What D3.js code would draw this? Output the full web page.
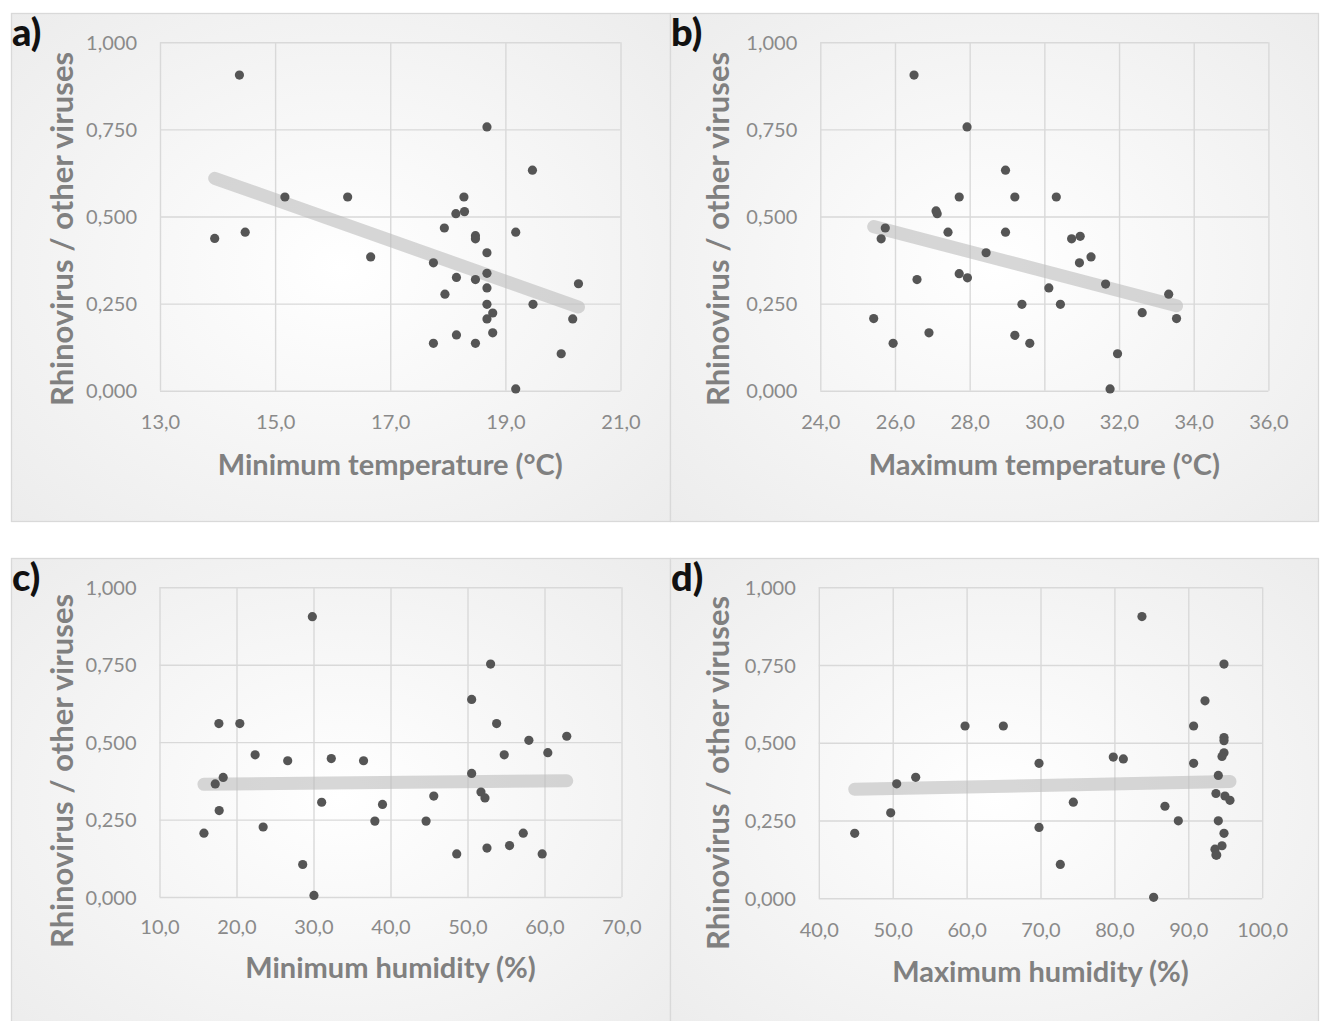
<!DOCTYPE html>
<html>
<head>
<meta charset="utf-8">
<script src="https://cdn.jsdelivr.net/npm/d3@7"></script>
<style>
  body { margin: 0; background: #ffffff; }
  svg { display: block; }
</style>
</head>
<body>
<svg class="fig" width="1323" height="1021"></svg>
<script>
// ratio rhinovirus / other viruses vs. weather
var tMinX = [14.38, 18.68, 19.47, 15.17, 16.26, 18.28, 18.14, 18.29, 13.95, 14.48, 17.94, 18.48,
    18.48, 19.18, 16.66, 18.68, 17.75, 18.68, 18.15, 18.48, 18.68, 20.27, 17.95, 18.68, 19.48,
    18.78, 18.68, 20.17, 18.78, 18.15, 17.75, 18.48, 19.97, 19.18]
var tMinY = [0.906, 0.757, 0.633, 0.556, 0.556, 0.556, 0.508, 0.514, 0.437, 0.455, 0.467, 0.445,
    0.436, 0.455, 0.384, 0.396, 0.367, 0.337, 0.325, 0.319, 0.295, 0.307, 0.277, 0.248, 0.248,
    0.223, 0.206, 0.206, 0.166, 0.160, 0.136, 0.136, 0.106, 0.005]

var tMaxX = [26.51, 27.93, 28.96, 27.72, 29.21, 30.32, 27.10, 27.13, 25.74, 25.63, 27.42, 28.96,
    30.73, 30.96, 28.44, 31.25, 30.94, 27.72, 27.94, 26.59, 31.64, 30.12, 33.33, 29.40, 30.43,
    32.62, 25.43, 33.54, 26.91, 29.21, 25.95, 29.61, 31.96, 31.76]
var tMaxY = [0.906, 0.757, 0.633, 0.556, 0.556, 0.556, 0.516, 0.508, 0.467, 0.436, 0.455, 0.455,
    0.436, 0.443, 0.396, 0.384, 0.367, 0.336, 0.324, 0.319, 0.306, 0.295, 0.277, 0.248, 0.248,
    0.224, 0.207, 0.207, 0.166, 0.159, 0.136, 0.136, 0.106, 0.005]

var hMinX = [29.85, 53.0, 50.54, 17.71, 20.43, 53.78, 57.97, 62.89, 60.43, 54.77, 22.42, 26.65,
    32.31, 36.50, 50.54, 18.27, 17.24, 51.75, 52.27, 45.62, 31.06, 38.96, 17.75, 37.97, 44.62,
    23.46, 15.77, 57.24, 55.46, 52.53, 48.60, 59.70, 28.60, 30.06]
var hMinY = [0.905, 0.752, 0.638, 0.560, 0.560, 0.560, 0.506, 0.519, 0.466, 0.459, 0.459, 0.440,
    0.447, 0.440, 0.399, 0.386, 0.365, 0.339, 0.320, 0.326, 0.306, 0.299, 0.279, 0.245, 0.245,
    0.226, 0.206, 0.206, 0.166, 0.158, 0.139, 0.139, 0.105, 0.005]

var hMaxX = [83.73, 94.83, 92.26, 59.79, 64.97, 90.72, 94.83, 94.83, 94.83, 94.56, 90.72, 69.80,
    79.85, 81.21, 94.06, 53.11, 50.54, 93.74, 94.96, 95.64, 74.44, 86.84, 49.73, 88.65, 94.06,
    69.80, 44.86, 94.83, 94.56, 93.61, 93.74, 93.85, 72.68, 85.31]
var hMaxY = [0.906, 0.753, 0.635, 0.554, 0.554, 0.554, 0.517, 0.507, 0.468, 0.456, 0.434, 0.434,
    0.454, 0.448, 0.395, 0.389, 0.368, 0.337, 0.329, 0.315, 0.309, 0.296, 0.275, 0.249, 0.249,
    0.228, 0.209, 0.209, 0.169, 0.158, 0.139, 0.139, 0.109, 0.003]

var yTicks = [0, 0.25, 0.5, 0.75, 1]
var tMinTicks = [13, 15, 17, 19, 21]
var tMaxTicks = [24, 26, 28, 30, 32, 34, 36]
var hMinTicks = [10, 20, 30, 40, 50, 60, 70]
var hMaxTicks = [40, 50, 60, 70, 80, 90, 100]

var yTitle = "Rhinovirus / other viruses"

var panels = [
    {letter: "a)", xs: tMinX, ys: tMinY, ticks: tMinTicks, title: "Minimum temperature (°C)",
     box: [11, 13, 659, 508], plot: [160, 42.3, 620.5, 390.7], yTitlePos: [62, 229], labelGap: 31, titleY: 465},
    {letter: "b)", xs: tMaxX, ys: tMaxY, ticks: tMaxTicks, title: "Maximum temperature (°C)",
     box: [670, 13, 648, 508], plot: [820.3, 42.3, 1268.4, 390.7], yTitlePos: [718, 229], labelGap: 31, titleY: 465},
    {letter: "c)", xs: hMinX, ys: hMinY, ticks: hMinTicks, title: "Minimum humidity (%)",
     box: [11, 558, 659, 475], plot: [159.5, 587.3, 621.5, 897], yTitlePos: [62, 771], labelGap: 30, titleY: 968},
    {letter: "d)", xs: hMaxX, ys: hMaxY, ticks: hMaxTicks, title: "Maximum humidity (%)",
     box: [670, 558, 648, 475], plot: [818.8, 587.3, 1262.2, 898.3], yTitlePos: [718, 773], labelGap: 32, titleY: 972}
]

var locale = d3.formatLocale({decimal: ",", thousands: ".", grouping: [3], currency: ["", ""]})
var xFmt = locale.format(".1f")
var yFmt = locale.format(".3f")

var fontFam = "Lato, 'Open Sans', sans-serif"

function fitLine(xs, ys) {
    var mx = d3.mean(xs), my = d3.mean(ys)
    var sxy = 0, sxx = 0
    xs.forEach((x, i) => {
        sxy += (x - mx) * (ys[i] - my)
        sxx += (x - mx) * (x - mx)
    })
    var slope = sxy / sxx
    return {slope: slope, intercept: my - slope * mx}
}

var svg = d3.select(".fig")
var defs = svg.append("defs")

function drawPanel(p, i) {
    var g = svg.append("g").attr("class", "panel-" + i)

    // chart area with soft radial shading like the office chart style
    var grad = defs.append("radialGradient")
        .attr("id", "bg" + i)
        .attr("cx", "50%").attr("cy", "50%").attr("r", "75%")
    grad.append("stop").attr("offset", "0%").attr("stop-color", "#ffffff")
    grad.append("stop").attr("offset", "100%").attr("stop-color", "#ebebeb")

    g.append("rect")
        .attr("x", p.box[0] + 0.5).attr("y", p.box[1] + 0.5)
        .attr("width", p.box[2]).attr("height", p.box[3])
        .attr("fill", "url(#bg" + i + ")")
        .attr("stroke", "#d9d9d9")
        .attr("stroke-width", 1.3)

    var xScale = d3.scaleLinear()
        .domain(d3.extent(p.ticks))
        .range([p.plot[0], p.plot[2]])
    var yScale = d3.scaleLinear()
        .domain([0, 1])
        .range([p.plot[3], p.plot[1]])
    var h = p.plot[3] - p.plot[1]
    var w = p.plot[2] - p.plot[0]

    // x axis: gridlines + labels
    var xAxis = g.append("g")
        .attr("class", "x axis")
        .attr("transform", "translate(0," + p.plot[3] + ")")
        .call(d3.axisBottom(xScale).tickValues(p.ticks).tickSize(-h).tickFormat(xFmt))
    xAxis.select(".domain").remove()
    xAxis.selectAll("line").attr("stroke", "#d9d9d9").attr("stroke-width", 1.4)
    xAxis.selectAll("text")
        .attr("y", p.labelGap).attr("dy", "0.35em")
        .attr("fill", "#8a8a8a")
        .attr("font-family", fontFam)
        .attr("font-size", "20px")

    // y axis
    var yAxis = g.append("g")
        .attr("class", "y axis")
        .attr("transform", "translate(" + p.plot[0] + ",0)")
        .call(d3.axisLeft(yScale).tickValues(yTicks).tickSize(-w).tickPadding(23).tickFormat(yFmt))
    yAxis.select(".domain").remove()
    yAxis.selectAll("line").attr("stroke", "#d9d9d9").attr("stroke-width", 1.4)
    yAxis.selectAll("text")
        .attr("dy", "0.35em")
        .attr("fill", "#8a8a8a")
        .attr("font-family", fontFam)
        .attr("font-size", "20px")

    // linear trendline over the data range
    var fit = fitLine(p.xs, p.ys)
    var ends = d3.extent(p.xs)
    g.append("line")
        .attr("x1", xScale(ends[0])).attr("y1", yScale(fit.intercept + fit.slope * ends[0]))
        .attr("x2", xScale(ends[1])).attr("y2", yScale(fit.intercept + fit.slope * ends[1]))
        .attr("stroke", "#bdbdbd")
        .attr("stroke-opacity", 0.6)
        .attr("stroke-width", 13)
        .attr("stroke-linecap", "round")

    g.append("g").selectAll("circle")
        .data(p.xs.map((x, k) => ({x: x, y: p.ys[k]})))
        .enter().append("circle")
        .attr("cx", d => xScale(d.x))
        .attr("cy", d => yScale(d.y))
        .attr("r", 4.6)
        .attr("fill", "#555555")

    g.append("text")
        .text(p.title)
        .attr("x", (p.plot[0] + p.plot[2]) / 2)
        .attr("y", p.titleY)
        .attr("dy", "0.35em")
        .attr("text-anchor", "middle")
        .attr("font-family", fontFam)
        .attr("font-weight", "bold")
        .attr("font-size", "29px")
        .attr("fill", "#808080")

    g.append("text")
        .text(yTitle)
        .attr("transform", "translate(" + p.yTitlePos[0] + "," + p.yTitlePos[1] + ") rotate(-90)")
        .attr("dy", "0.35em")
        .attr("text-anchor", "middle")
        .attr("font-family", fontFam)
        .attr("font-weight", "bold")
        .attr("font-size", "31px")
        .attr("fill", "#808080")

    g.append("text")
        .text(p.letter)
        .attr("x", p.box[0] + 1)
        .attr("y", p.box[1] + 33)
        .attr("font-family", fontFam)
        .attr("font-weight", "900")
        .attr("font-size", "38px")
        .attr("fill", "#111111")
}

panels.forEach(drawPanel)
</script>
</body>
</html>
